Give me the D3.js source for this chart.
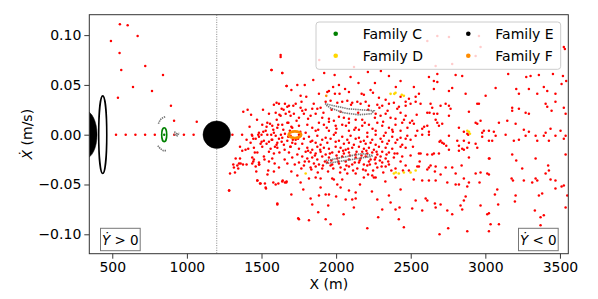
<!DOCTYPE html>
<html>
<head>
<meta charset="utf-8">
<script src="https://cdn.jsdelivr.net/npm/d3@7"></script>
<style>
body { margin: 0; background: #fff; }
text { font-family: "DejaVu Sans", sans-serif; }
</style>
</head>
<body>
<script>
// ---- data (X in m, Xdot in m/s) ----
const xTicks = [500, 1000, 1500, 2000, 2500, 3000, 3500];
const yTicks = [-0.10, -0.05, 0.00, 0.05, 0.10];
const xLine = 1200;

// red points: sparse branch top-left
const redLeft = [[551,0.111],[603,0.110],[491,0.094],[670,0.099],[549,0.082],[721,0.069],[560,0.065],[840,0.060],
 [639,0.048],[766,0.044],[538,0.037],[893,0.029],[914,0.014],[1066,0.013],[1378,0.023],[1407,0.025]];
// red points on the X axis
const redAxisX = [525,590,655,720,785,915,980,1045,1305,1370,1435,1500,1565,1630];
// red points, cloud left part
const redCloudLeft = [[1393,-0.015],[1371,-0.016],[1327,-0.024],[1349,-0.029],[1338,-0.031],[1360,-0.029],[1376,-0.030],
 [1315,-0.033],[1322,-0.038],[1282,-0.056],[1411,-0.014],[1356,-0.024],[1311,-0.030],[1344,-0.034],[1289,-0.039],
 [1400,-0.030],[1445,-0.027],[1485,-0.030],[1472,-0.046],[1490,-0.049],[1523,-0.049],[1530,-0.054],[1579,-0.048],
 [1595,-0.050],[1642,-0.046],[1657,-0.048],[1668,-0.047],[1606,-0.069],[1284,-0.056],[1746,-0.084],
 [1568,0.065],[1628,0.080],[1639,0.062],[1668,0.049],[1601,0.032],[1635,0.026],[1673,0.028],[1686,0.023],[1713,0.029],
 [1534,0.008],[1512,0.003],[1557,0.011],[1579,0.005],[1612,0.010],[1646,0.005],[1657,0.001],[1679,-0.002],
 [1400,-0.005],[1445,-0.004],[1478,0.000],[1501,-0.007],[1534,-0.009],[1568,-0.005],[1601,-0.010],[1635,-0.007],
 [1693,-0.012],[1727,-0.009],[1356,-0.012]];
// red points, cloud upper half
const redCloudUp = [[1628,0.078],[1566,0.065],[1639,0.062],[1668,0.049],[1847,0.055],[2019,0.050],[2097,0.058],[2213,0.063],
 [2354,0.059],[2432,0.054],[1762,0.039],[1800,0.038],[1885,0.041],[1941,0.043],[1952,0.044],[1992,0.041],[2023,0.041],
 [2086,0.043],[2171,0.041],[2186,0.040],[2231,0.045],[2247,0.042],[2287,0.037],[2332,0.035],[2432,0.038],[2466,0.033],
 [1583,0.030],[1617,0.031],[1657,0.031],[1684,0.029],[1729,0.031],[1762,0.027],[1773,0.024],[1796,0.025],[1840,0.026],
 [1874,0.026],[1896,0.027],[1930,0.033],[1963,0.034],[2008,0.032],[2041,0.033],[2075,0.034],[2108,0.032],[2142,0.033],
 [2164,0.031],[2198,0.033],[2220,0.029],[2276,0.030],[2309,0.029],[2354,0.031],[2387,0.032],[2421,0.028],[2466,0.029],
 [1550,0.021],[1595,0.022],[1628,0.019],[1662,0.021],[1695,0.019],[1717,0.021],[1751,0.017],[1784,0.021],[1829,0.019],
 [1863,0.021],[1907,0.017],[1952,0.016],[1985,0.014],[2019,0.018],[2052,0.017],[2086,0.016],[2131,0.015],[2175,0.015],
 [2265,0.021],[2298,0.019],[2332,0.021],[2365,0.017],[2398,0.016],[2432,0.022],[2466,0.019],
 [1505,0.010],[1539,0.012],[1572,0.009],[1606,0.007],[1639,0.010],[1673,0.012],[1706,0.007],[1751,0.009],[1807,0.010],
 [1840,0.007],[1885,0.012],[1918,0.010],[1952,0.013],[1997,0.009],[2041,0.010],[2086,0.012],[2131,0.007],[2175,0.009],
 [2220,0.010],[2276,0.012],[2309,0.009],[2354,0.007],[2398,0.010],[2443,0.012],
 [1483,0.002],[1528,0.004],[1583,0.002],[1796,0.002],[1863,0.004],[1952,0.004],[1997,0.002],[2086,0.004],[2153,0.005],
 [2209,0.002],[2265,0.004],[2332,0.002],[2376,0.005],[2432,0.004],[1887,0.075],[1740,0.050],[1990,0.060],[2150,0.052]];
// red points, cloud lower half (dense band)
const redCloudDown = [[1438,-0.001],[1483,-0.002],[1539,0.000],[1595,-0.001],[1639,-0.003],[1695,-0.001],[1751,0.000],
 [1818,-0.002],[1874,-0.001],[1930,-0.003],[1985,0.000],[2041,-0.002],[2097,-0.001],[2153,-0.003],[2209,-0.002],
 [2265,0.000],[2320,-0.001],[2376,-0.002],[2432,-0.003],[2477,-0.001],
 [1461,-0.004],[1516,-0.006],[1572,-0.005],[1617,-0.004],[1673,-0.006],[1729,-0.005],[1784,-0.004],[1840,-0.006],
 [1907,-0.005],[1963,-0.004],[2019,-0.006],[2075,-0.005],[2131,-0.004],[2186,-0.006],[2242,-0.005],[2298,-0.004],
 [2354,-0.006],[2410,-0.005],[2466,-0.004],
 [1427,-0.008],[1494,-0.009],[1550,-0.007],[1606,-0.008],[1650,-0.010],[1706,-0.008],[1773,-0.009],[1829,-0.007],
 [1863,-0.008],[1896,-0.010],[1941,-0.008],[1997,-0.007],[2052,-0.009],[2086,-0.008],[2119,-0.010],[2164,-0.007],
 [2198,-0.009],[2231,-0.008],[2265,-0.010],[2309,-0.007],[2343,-0.009],[2398,-0.008],[2443,-0.010],
 [1449,-0.013],[1505,-0.012],[1561,-0.014],[1606,-0.013],[1695,-0.012],[1751,-0.014],[1807,-0.013],[1840,-0.015],
 [1874,-0.012],[1918,-0.013],[1952,-0.014],[1997,-0.012],[2030,-0.013],[2064,-0.015],[2108,-0.013],[2153,-0.012],
 [2186,-0.014],[2220,-0.013],[2253,-0.015],[2287,-0.012],[2332,-0.013],[2376,-0.014],[2432,-0.012],[2466,-0.013],
 [1472,-0.018],[1550,-0.017],[1583,-0.019],[1684,-0.018],[1740,-0.020],[1796,-0.017],[1829,-0.018],[1863,-0.019],
 [1896,-0.017],[1930,-0.020],[1974,-0.018],[2019,-0.017],[2052,-0.019],[2086,-0.018],[2131,-0.020],[2175,-0.017],
 [2209,-0.019],[2242,-0.018],[2276,-0.020],[2309,-0.017],[2354,-0.018],[2410,-0.019],
 [1438,-0.023],[1516,-0.022],[1572,-0.024],[1706,-0.023],[1773,-0.022],[1807,-0.024],[1840,-0.023],[1874,-0.025],
 [1907,-0.022],[1952,-0.023],[2008,-0.024],[2041,-0.022],[2086,-0.025],[2131,-0.023],[2164,-0.024],[2198,-0.022],
 [2231,-0.025],[2265,-0.023],[2298,-0.022],[2332,-0.024],[2387,-0.023],[2443,-0.022],
 [1483,-0.028],[1550,-0.027],[1673,-0.029],[1751,-0.028],[1818,-0.027],[1851,-0.029],[1885,-0.030],[1941,-0.028],
 [1974,-0.030],[2019,-0.029],[2064,-0.027],[2108,-0.030],[2153,-0.028],[2186,-0.030],[2220,-0.027],[2265,-0.029],
 [2309,-0.028],[2354,-0.030],[2432,-0.027],
 [1461,-0.032],[1617,-0.033],[1784,-0.031],[1829,-0.033],[1863,-0.032],[1907,-0.034],[1963,-0.031],[2030,-0.033],
 [2086,-0.032],[2142,-0.034],[2209,-0.031],[2276,-0.033],[2332,-0.032],[2398,-0.034],[2466,-0.031],
 [1583,-0.037],[1472,-0.046],[1494,-0.049],[1528,-0.053],[1613,-0.049],[1639,-0.047],[1666,-0.048],[1762,-0.048],
 [1863,-0.043],[1896,-0.053],[1829,-0.064],[1840,-0.070],[1885,-0.061],[1930,-0.060],[1952,-0.060],[1947,-0.071],
 [1985,-0.045],[2008,-0.050],[2030,-0.053],[2086,-0.056],[2131,-0.058],[2064,-0.065],[2108,-0.065],[2131,-0.064],
 [2119,-0.073],[2186,-0.043],[2265,-0.043],[2276,-0.065],[2309,-0.075],[2354,-0.061],[2365,-0.068],[2398,-0.075],
 [2425,-0.073],[2432,-0.055],[2448,-0.036],[2488,-0.036],[1751,-0.085],[1818,-0.086],[1930,-0.085],[1963,-0.090],
 [2209,-0.094],[2282,-0.083],[2454,-0.093],[1606,-0.070],[1483,-0.030],[1449,-0.025],[1818,-0.044],[1896,-0.044],
 [1974,-0.044],[2075,-0.039],[2041,-0.045],[2131,-0.039],[2198,-0.036],[2242,-0.041],[2398,-0.043],[1438,-0.029],
 [1740,-0.041],[2253,-0.043]];
// red points, extra fill of the dense core
const redCloudCore = [[1812,-0.016],[1858,-0.021],[1893,-0.015],[1925,-0.027],[1958,-0.019],[1981,-0.034],[2003,-0.021],
 [2027,-0.038],[2047,-0.016],[2069,-0.031],[2092,-0.021],[2114,-0.036],[2137,-0.017],[2158,-0.026],[2181,-0.035],
 [2203,-0.016],[2226,-0.030],[2248,-0.036],[2271,-0.017],[2293,-0.026],[2316,-0.038],[2338,-0.020],[1834,-0.035],
 [1877,-0.038],[1912,-0.031],[1946,-0.037],[1968,-0.026],[2014,-0.027],[2058,-0.035],[2081,-0.014],[2125,-0.028],
 [2170,-0.021],[2214,-0.040],[2259,-0.025],[2305,-0.032],[2349,-0.027],[2370,-0.036],[2392,-0.019],[1790,-0.027],
 [1767,-0.034],[1723,-0.030],[1700,-0.037],[1655,-0.025],[1620,-0.018],[1588,-0.029],[1545,-0.036],[1520,-0.025],
 [1465,-0.037],[1602,0.015],[1648,0.025],[1690,0.004],[1735,0.014],[1768,0.033],[1812,0.016],[1850,0.031],[1880,0.005],
 [1915,0.022],[1937,0.007],[1970,0.025],[2002,0.006],[2030,0.023],[2066,0.009],[2100,0.030],[2122,0.005],[2148,0.022],
 [2192,0.012],[2215,0.025],[2244,0.006],[2260,0.017],[2290,0.027],[2315,0.013],[2345,0.024],[2380,0.003],[2410,0.026],
 [2455,0.015],[2478,0.007],[2495,0.012],[2515,-0.012],[2540,0.020],[2560,-0.027],[2590,0.008],[2520,-0.045],
 [1700,0.008],[1745,-0.004],[1760,0.003],[1710,-0.005],[1680,0.012],[1655,-0.015],[1620,0.020],[1590,-0.012],
 [1470,0.015],[1455,-0.018],[1420,0.008],[1430,0.020],[1510,0.025],[1540,-0.040],[1700,0.045],[1790,0.050],
 [1920,0.062],[2060,0.046],[2120,0.068],[2260,0.052],[2300,0.064],[2400,0.048],[1980,0.048],[1700,-0.060],
 [1780,-0.055],[2000,-0.062],[2160,-0.050],[2240,-0.057],[2330,-0.047],[1880,-0.078],[2050,-0.080],[2420,-0.085]];
// red points, sparse right part
const redRight = [[2611,0.094],[2678,0.099],[2756,0.098],[2957,0.099],[2968,0.088],[2935,0.079],[2778,0.071],[2667,0.069],
 [2622,0.058],[2678,0.061],[2801,0.060],[2845,0.059],[3153,0.061],[3274,0.058],[3303,0.059],[3359,0.060],[3453,0.061],
 [3520,0.059],[3526,0.088],[3533,0.086],[2521,0.048],[2533,0.038],[2555,0.041],[2655,0.054],[2678,0.053],[2655,0.046],
 [2756,0.044],[2778,0.047],[2868,0.041],[2946,0.031],[2957,0.031],[3069,0.047],[3002,0.039],[3207,0.046],[3225,0.041],
 [3292,0.046],[3348,0.041],[3392,0.048],[3415,0.044],[3470,0.041],[3511,0.051],[3542,0.054],[2488,0.036],[2499,0.031],
 [2533,0.033],[2566,0.031],[2633,0.031],[2644,0.027],[2611,0.022],[2626,0.022],[2655,0.021],[2678,0.021],[2700,0.029],
 [2734,0.031],[2756,0.029],[2767,0.026],[2890,0.023],[2935,0.012],[2968,0.014],[2946,0.011],[2990,0.004],[3024,0.004],
 [3091,0.012],[3147,0.014],[3180,0.027],[3180,0.024],[3225,0.026],[3270,0.022],[3292,0.021],[3404,0.031],[3415,0.028],
 [3444,0.024],[3470,0.033],[3526,0.027],[3538,0.021],[2510,0.014],[2521,0.011],[2611,0.009],[2689,0.009],[2678,0.012],
 [2711,0.011],[2544,0.004],[2577,0.006],[2622,0.003],[2823,0.007],[2856,0.003],[2879,0.001],[3057,0.003],[3203,0.011],
 [3258,0.005],[3292,0.003],[3404,0.002],[3437,0.006],[3504,0.004],[2667,0.015],[2756,0.019],[2979,0.002],
 [2499,-0.005],[2533,-0.001],[2577,0.000],[2622,0.000],[2700,-0.006],[2711,-0.008],[2722,-0.009],[2693,-0.007],
 [2738,-0.011],[2756,-0.001],[2812,-0.006],[2823,-0.011],[2856,-0.006],[2845,-0.014],[2879,-0.013],[2890,-0.008],
 [2935,-0.009],[2946,-0.013],[2979,-0.002],[3024,-0.006],[3046,-0.006],[3069,-0.001],[3191,-0.006],[3225,-0.005],
 [3270,-0.001],[3337,-0.001],[3348,-0.006],[3392,-0.001],[3426,-0.006],[3470,-0.001],[3526,-0.004],[3538,-0.001],
 [2885,0.000],[3136,0.000],[2756,-0.015],[2823,-0.016],[2856,-0.015],[2499,-0.021],[2555,-0.019],[2566,-0.019],
 [2611,-0.020],[2644,-0.020],[2655,-0.019],[2689,-0.019],[2890,-0.023],[3024,-0.024],[3028,-0.024],[3180,-0.020],
 [3207,-0.026],[3337,-0.024],[3538,-0.020],[2544,-0.032],[2555,-0.032],[2622,-0.033],[2633,-0.031],[2667,-0.032],
 [2734,-0.033],[2778,-0.033],[2841,-0.031],[2935,-0.039],[2968,-0.038],[3013,-0.039],[3024,-0.040],[2801,-0.039],
 [2700,-0.040],[2662,-0.037],[2611,-0.035],[2577,-0.046],[2622,-0.046],[2667,-0.046],[2745,-0.048],[2801,-0.050],
 [2823,-0.050],[2879,-0.052],[2890,-0.048],[2961,-0.048],[2856,-0.044],[3176,-0.044],[3185,-0.046],[3247,-0.034],
 [3258,-0.046],[3314,-0.048],[3348,-0.046],[3337,-0.044],[3404,-0.039],[3426,-0.036],[3437,-0.045],[3421,-0.031],
 [3470,-0.046],[3511,-0.052],[3470,-0.054],[3526,-0.051],[3549,-0.061],[3381,-0.059],[3359,-0.061],[3080,-0.055],
 [3064,-0.060],[3203,-0.061],[2510,-0.074],[2533,-0.066],[2577,-0.076],[2600,-0.064],[2611,-0.066],[2662,-0.069],
 [2700,-0.070],[2667,-0.073],[2745,-0.076],[2778,-0.080],[2834,-0.071],[2856,-0.066],[2868,-0.062],[2845,-0.075],
 [2968,-0.071],[3024,-0.079],[3013,-0.080],[3086,-0.070],[3198,-0.067],[3332,-0.076],[3392,-0.081],[3370,-0.083],
 [3538,-0.073],[3370,-0.091],[3035,-0.090],[3091,-0.090],[2751,-0.094],[2879,-0.097],[3024,-0.097],[2693,-0.100]];

// Family D (gold) and F (orange) points
const famD = [[2365,0.041],[2390,0.041],[2398,0.042],[2440,0.040],[2454,0.039],[2387,-0.039],[2400,-0.038],
 [2420,-0.039],[2454,-0.038],[2499,-0.038],[2533,-0.036],[2879,0.004],[2890,0.003],[2897,0.001],[1796,-0.039]];
const famF = [[1934,0.039]];
// ellipses: [cx, cy, rx, ry]
const famFOrbit = [1724, 0, 42, 0.0033];
const famCOrbit = [848, 0, 17, 0.007];
const famEBody = [1200, 0, 92, 0.0138];
const famEOpen = [436, 0, 27, 0.039];
const famELeft = [318, 0, 80, 0.024];
// grey dotted tracks
const greyUp = [[1925,0.031],[2080,0.026],[2253,0.024],[2235,0.021],[2150,0.020],[2050,0.022],[1960,0.027],[1930,0.030]];
const greyDown = [[1930,-0.026],[2175,-0.019],[2247,-0.021],[2230,-0.022],[2100,-0.025],[1930,-0.029]];
const greyCUp = [[809,0.011],[821,0.015],[839,0.017],[855,0.018]];
const greyCDown = [[805,-0.011],[821,-0.014],[842,-0.016],[865,-0.016]];
const greyCRight = [[916,0.003],[932,0.001],[920,0.000],[936,-0.001],[949,0.002]];

const legendItems = [
  {name: "Family C", color: "green"},
  {name: "Family D", color: "#ffd700"},
  {name: "Family E", color: "black"},
  {name: "Family F", color: "#ff8c00"}
];

// ---- drawing ----
const W = 598, H = 299;
const L = 89.3, R = 568.3, T = 14.7, B = 253.7;

const x = d3.scaleLinear().domain([346, 3556]).range([L, R]);
const y = d3.scaleLinear().domain([-0.1195, 0.1205]).range([B, T]);

const svg = d3.select("body").append("svg")
  .attr("width", W).attr("height", H);

svg.append("defs").append("clipPath").attr("id", "clip")
  .append("rect").attr("x", L).attr("y", T).attr("width", R - L).attr("height", B - T);

const plot = svg.append("g").attr("clip-path", "url(#clip)");

// vertical dotted line
plot.append("line")
  .attr("x1", x(xLine)).attr("x2", x(xLine))
  .attr("y1", T).attr("y2", B)
  .attr("stroke", "#666").attr("stroke-width", 0.8)
  .attr("stroke-dasharray", "1,1.4");

const reds = [].concat(redLeft, redAxisX.map(v => [v, 0]), redCloudLeft, redCloudUp, redCloudDown, redCloudCore, redRight);
plot.append("g").selectAll("circle").data(reds).enter().append("circle")
  .attr("cx", d => x(d[0])).attr("cy", d => y(d[1]))
  .attr("r", 1.25).attr("fill", "red");

const line = d3.line().x(d => x(d[0])).y(d => y(d[1]));
[greyUp, greyDown, greyCUp, greyCDown, greyCRight].forEach(t => {
  plot.append("path").datum(t)
    .attr("d", line)
    .attr("fill", "none")
    .attr("stroke", "#777")
    .attr("stroke-width", 1.6)
    .attr("stroke-dasharray", "1.4,0.8");
});

plot.append("g").selectAll("circle").data(famD).enter().append("circle")
  .attr("cx", d => x(d[0])).attr("cy", d => y(d[1]))
  .attr("r", 1.3).attr("fill", "#ffd700");
plot.append("g").selectAll("circle").data(famF).enter().append("circle")
  .attr("cx", d => x(d[0])).attr("cy", d => y(d[1]))
  .attr("r", 1.3).attr("fill", "#ff8c00");

function ellipse(e, fill, stroke, sw) {
  plot.append("ellipse")
    .attr("cx", x(e[0])).attr("cy", y(e[1]))
    .attr("rx", x(e[0] + e[2]) - x(e[0]))
    .attr("ry", y(e[1]) - y(e[1] + e[3]))
    .attr("fill", fill).attr("stroke", stroke).attr("stroke-width", sw);
}
ellipse(famFOrbit, "none", "#ff8c00", 2.6);
ellipse(famCOrbit, "none", "green", 1.6);
plot.append("circle").attr("cx", x(famCOrbit[0])).attr("cy", y(famCOrbit[1]))
  .attr("r", 1.2).attr("fill", "green");
ellipse(famEBody, "black", "black", 0.5);
ellipse(famEOpen, "none", "black", 1.6);
ellipse(famELeft, "black", "black", 0.5);

// axes
const xAxis = svg.append("g").attr("transform", `translate(0,${B})`)
  .call(d3.axisBottom(x).tickValues(xTicks).tickFormat(d3.format("d")).tickSize(5).tickPadding(3));
const yAxis = svg.append("g").attr("transform", `translate(${L},0)`)
  .call(d3.axisLeft(y).tickValues(yTicks).tickFormat(d3.format(".2f")).tickSize(5).tickPadding(3));
[xAxis, yAxis].forEach(a => {
  a.select(".domain").remove();
  a.selectAll("text").attr("font-size", 14).attr("fill", "#000").attr("font-family", "DejaVu Sans");
  a.selectAll("line").attr("stroke", "#222").attr("stroke-width", 0.9);
});

svg.append("rect")
  .attr("x", L).attr("y", T).attr("width", R - L).attr("height", B - T)
  .attr("fill", "none").attr("stroke", "#333").attr("stroke-width", 1);

// axis labels
svg.append("text").attr("x", (L + R) / 2).attr("y", 289)
  .attr("text-anchor", "middle").attr("font-size", 14).text("X (m)");
const yl = svg.append("text")
  .attr("transform", `translate(32,${(T + B) / 2}) rotate(-90)`)
  .attr("text-anchor", "middle").attr("font-size", 14);
yl.append("tspan").attr("font-style", "italic").text("Ẋ");
yl.append("tspan").text(" (m/s)");

// legend
const lg = svg.append("g");
lg.append("rect").attr("x", 316).attr("y", 22).attr("width", 244.7).attr("height", 47.3)
  .attr("rx", 3).attr("fill", "white").attr("fill-opacity", 0.8)
  .attr("stroke", "#ccc").attr("stroke-width", 1);
legendItems.forEach((d, i) => {
  const col = Math.floor(i / 2), row = i % 2;
  const mx = 335.7 + col * 132.6, my = 33.7 + row * 22;
  lg.append("circle").attr("cx", mx).attr("cy", my).attr("r", 2.3).attr("fill", d.color);
  lg.append("text").attr("x", mx + 27).attr("y", my + 5).attr("font-size", 14).text(d.name);
});

// annotation boxes
function note(x0, sign) {
  const g = svg.append("g");
  g.append("rect").attr("x", x0).attr("y", 228.3).attr("width", 39.7).attr("height", 22.4)
    .attr("fill", "white").attr("stroke", "#777").attr("stroke-width", 1);
  const t = g.append("text").attr("x", x0 + 19.8).attr("y", 244.5)
    .attr("text-anchor", "middle").attr("font-size", 13.5);
  t.append("tspan").attr("font-style", "italic").text("Ẏ");
  t.append("tspan").text(" " + sign + " 0");
}
note(100.5, ">");
note(518.5, "<");
</script>
</body>
</html>
